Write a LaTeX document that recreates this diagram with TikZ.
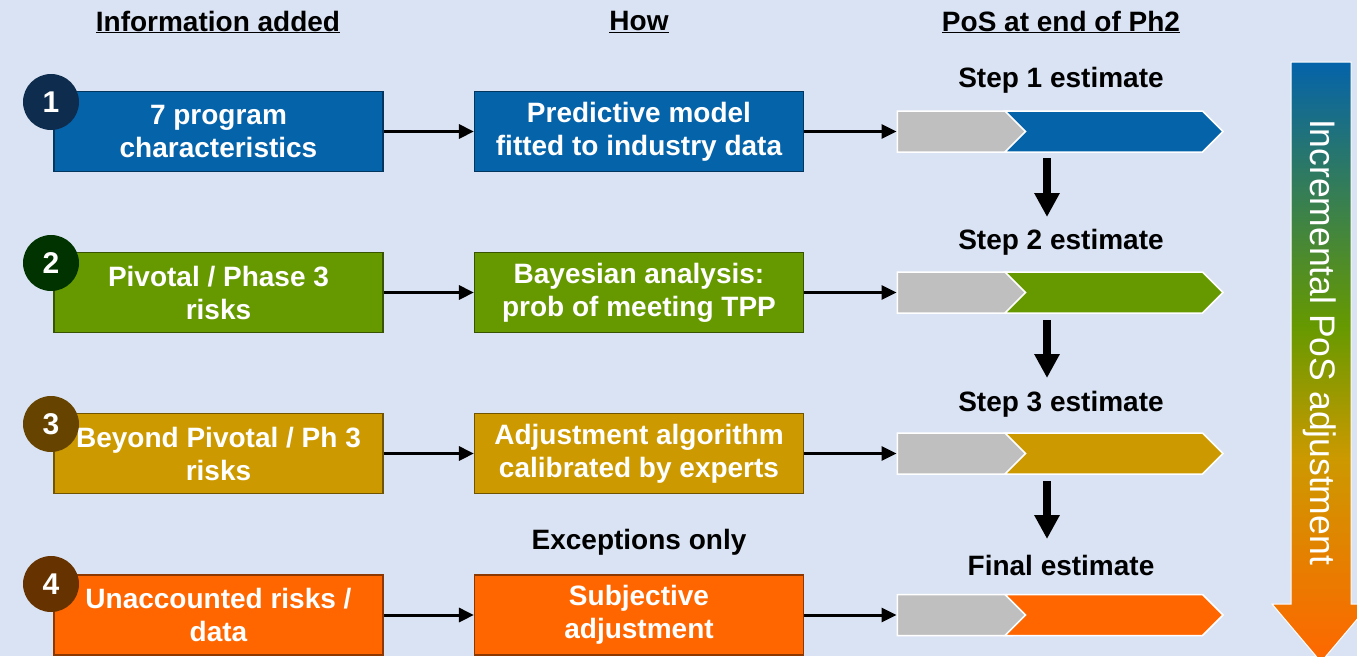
\documentclass[tikz,border=0pt]{standalone}
\usepackage{fontspec}
\setmainfont{Liberation Sans}
\usetikzlibrary{positioning,shapes.symbols,arrows.meta}
\definecolor{bgblue}{HTML}{DAE3F3}
\definecolor{rowblue}{HTML}{0563AA}
\definecolor{rowgreen}{HTML}{669900}
\definecolor{rowgold}{HTML}{CC9900}
\definecolor{roworange}{HTML}{FF6600}
\definecolor{numblue}{HTML}{0E2D4E}
\definecolor{numgreen}{HTML}{003300}
\definecolor{numgold}{HTML}{664400}
\definecolor{numorange}{HTML}{663300}
\definecolor{posgray}{HTML}{BFBFBF}
\pgfdeclareverticalshading{posgrad}{100bp}{color(0bp)=(roworange); color(25bp)=(roworange); color(42bp)=(rowgold); color(53bp)=(rowgreen); color(75bp)=(rowblue); color(100bp)=(rowblue)}
\newcommand{\boxfont}{\fontsize{28}{33}\selectfont\bfseries}
\newcommand{\numfont}{\fontsize{30}{32}\selectfont\bfseries}

\begin{document}
\begin{tikzpicture}[x=1pt, y=-1pt,
		infobox/.style={rectangle, draw=#1!55!black, fill=#1, line width=1.2pt, minimum width=329pt, minimum height=80pt, text=white, font=\boxfont, align=center, inner sep=0pt},
		numcirc/.style={circle, fill=#1, minimum size=56pt, text=white, font=\numfont, inner sep=0pt},
		graybar/.style={signal, signal to=east, signal pointer angle=90, fill=posgray, draw=white, line width=1.5pt, minimum width=136pt, minimum height=41pt, inner sep=0pt},
		colbar/.style={signal, signal from=west, signal to=east, signal pointer angle=90, fill=#1, draw=white, line width=1.5pt, minimum width=218pt, minimum height=41pt, inner sep=0pt},
		heading/.style={font=\boxfont, text=black},
		downarrow/.style={line width=8pt, -{Triangle[length=24pt,width=24pt]}}]
		\useasboundingbox (0,0) rectangle (1357,656);
		\fill[bgblue] (0,0) rectangle (1357,656);
		
		% PoS adjustment arrow
		\shadedraw[shading=posgrad, draw=white, line width=1pt] (1291,62) -- (1351,62) -- (1351,604) -- (1370,604) -- (1321,662) -- (1272,604) -- (1291,604) -- cycle;
		\node[rotate=-90, text=white, font=\fontsize{35.5}{38}\selectfont] (incr) at (1320,342) {Incremental PoS adjustment};
		
		\begin{scope}[every node/.style={heading}]
			\node (hdinfo) at (218,22) {\underline{Information added}};
			\node (hdhow) at (639,22) {\underline{How}};
			\node (hdpos) at (1061,22) {\underline{PoS at end of Ph2}};
			\node (step1) at (1061,80) {Step 1 estimate};
			\node (step2) at (1061,242) {Step 2 estimate};
			\node (step3) at (1061,404) {Step 3 estimate};
			\node (stepf) at (1061,565) {Final estimate};
			\node (except) at (639,542) {Exceptions only};
		\end{scope}
		
		\node[infobox=rowblue] (info1) at (218.5,131.5) {7 program\\characteristics};
		\node[infobox=rowgreen] (info2) at (218.5,292.5) {Pivotal / Phase 3\\risks};
		\node[infobox=rowgold] (info3) at (218.5,453.5) {Beyond Pivotal / Ph 3\\risks};
		\node[infobox=roworange] (info4) at (218.5,615) {Unaccounted risks /\\data};
		
		\node[numcirc=numblue] (num1) at (51,102) {1};
		\node[numcirc=numgreen] (num2) at (51,263) {2};
		\node[numcirc=numgold] (num3) at (51,424) {3};
		\node[numcirc=numorange] (num4) at (51,584) {4};
		
		\node[infobox=rowblue] (how1) at (639,131.5) {Predictive model\\fitted to industry data};
		\node[infobox=rowgreen] (how2) at (639,292.5) {Bayesian analysis:\\prob of meeting TPP};
		\node[infobox=rowgold] (how3) at (639,453.5) {Adjustment algorithm\\calibrated by experts};
		\node[infobox=roworange] (how4) at (639,615) {Subjective\\adjustment};
		
		\node[graybar] (gray1) at (955,131.5) {};
		\node[graybar] (gray2) at (955,292.5) {};
		\node[graybar] (gray3) at (955,453.5) {};
		\node[graybar] (gray4) at (955,615) {};
		\node[colbar=rowblue] (col1) at (1114,131.5) {};
		\node[colbar=rowgreen] (col2) at (1114,292.5) {};
		\node[colbar=rowgold] (col3) at (1114,453.5) {};
		\node[colbar=roworange] (col4) at (1114,615) {};
		
		\begin{scope}[every path/.style={line width=3pt, -{Triangle[length=15pt,width=14pt]}}]
			\path (info1) edge (how1);
			\path (info2) edge (how2);
			\path (info3) edge (how3);
			\path (info4) edge (how4);
			\path (how1) edge (gray1);
			\path (how2) edge (gray2);
			\path (how3) edge (gray3);
			\path (how4) edge (gray4);
		\end{scope}
		
		\coordinate (d1) at (1047,158);
		\coordinate (e1) at (1047,217);
		\coordinate (d2) at (1047,320);
		\coordinate (e2) at (1047,378);
		\coordinate (d3) at (1047,481);
		\coordinate (e3) at (1047,539);
		\draw[downarrow] (d1) -- (e1);
		\draw[downarrow] (d2) -- (e2);
		\draw[downarrow] (d3) -- (e3);
	\end{tikzpicture}
\end{document}
